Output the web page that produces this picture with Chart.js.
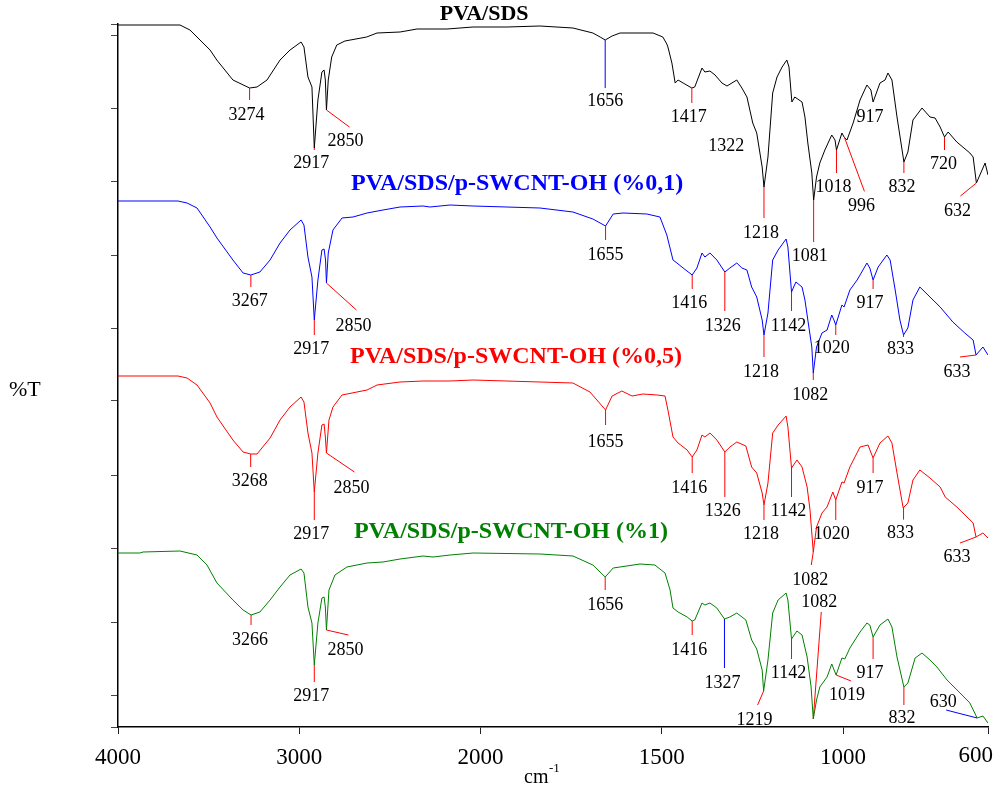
<!DOCTYPE html>
<html lang="en">
  <head>
    <meta charset="UTF-8" />
    <title>FTIR PVA/SDS</title>
    <script src="https://cdn.jsdelivr.net/npm/chart.js"></script>
    <style>
      html, body { margin: 0; padding: 0; background: #fff; }
      #wrap { width: 1001px; height: 798px; }
    </style>
  </head>
  <body>
    <div id="wrap"><canvas id="ftir"></canvas></div>
    <script>
      // wavenumber (cm-1), height of trace above the x axis (stacked, arbitrary %T units)
      const pvaSds = [
        [4000,702],[3658,702],[3603,697],[3492,677],[3455,667],[3366,647],[3274,639],[3233,640],
        [3178,647],[3106,667],[3051,677],[2990,685],[2974,680],[2952,650],[2930,640],[2917,579],
        [2897,627],[2875,655],[2863,657],[2856,647],[2850,617],[2840,647],[2821,670],[2793,682],
        [2748,686],[2628,690],[2571,694],[2444,695],[2350,698],[2185,698],[2041,700],[1927,700],
        [1836,701],[1745,699],[1690,694],[1670,690],[1656,687],[1637,691],[1615,694],[1560,694],
        [1524,694],[1497,690],[1486,683],[1483,680],[1472,664],[1463,644],[1455,647],[1441,644],
        [1417,639],[1409,640],[1389,659],[1381,655],[1367,656],[1353,652],[1334,644],[1320,641],
        [1293,647],[1279,639],[1265,630],[1249,604],[1238,594],[1223,560],[1218,540],[1207,570],
        [1194,634],[1182,650],[1168,660],[1155,667],[1149,660],[1141,625],[1133,630],[1113,625],
        [1105,610],[1097,584],[1086,554],[1081,527],[1073,550],[1064,564],[1050,577],[1031,592],
        [1022,587],[1018,577],[1003,594],[997,590],[989,587],[972,604],[953,627],[934,642],
        [923,637],[917,625],[898,644],[884,647],[876,654],[865,647],[851,610],[837,577],
        [832,565],[821,575],[807,607],[782,619],[760,610],[746,609],[732,600],[720,590],
        [710,595],[686,585],[650,574],[641,570],[632,544],[608,564],[600,552]
      ];
      const pvaSds01 = [
        [4000,526],[3669,526],[3619,524],[3564,519],[3492,500],[3454,489],[3366,467],[3310,454],
        [3267,452],[3217,455],[3161,467],[3106,484],[3051,497],[2990,507],[2974,502],[2952,470],
        [2930,450],[2917,407],[2897,447],[2875,477],[2863,478],[2855,467],[2850,444],[2840,474],
        [2814,497],[2764,509],[2703,510],[2626,514],[2538,517],[2444,520],[2317,521],[2279,520],
        [2168,522],[2041,521],[1836,519],[1745,515],[1690,508],[1655,501],[1634,513],[1607,514],
        [1541,513],[1505,510],[1486,492],[1469,467],[1458,464],[1441,459],[1416,452],[1403,459],
        [1389,474],[1381,470],[1367,474],[1348,467],[1326,455],[1312,459],[1293,464],[1279,459],
        [1265,457],[1252,440],[1238,430],[1223,407],[1218,392],[1207,414],[1194,467],[1179,477],
        [1157,488],[1152,480],[1142,435],[1130,445],[1113,440],[1105,427],[1097,407],[1086,380],
        [1082,354],[1073,380],[1058,394],[1044,397],[1031,412],[1025,407],[1020,402],[1003,422],
        [997,420],[981,437],[961,447],[934,464],[926,459],[917,447],[903,460],[879,472],
        [870,467],[856,437],[843,407],[833,392],[821,399],[807,427],[788,440],[760,430],
        [732,420],[718,414],[697,405],[664,394],[641,387],[633,372],[614,380],[600,372]
      ];
      const pvaSds05 = [
        [4000,351],[3669,351],[3619,349],[3564,342],[3492,324],[3454,310],[3366,287],[3310,275],
        [3268,273],[3233,273],[3161,289],[3106,307],[3051,320],[2990,330],[2974,325],[2952,294],
        [2930,274],[2917,235],[2897,274],[2875,302],[2863,303],[2856,290],[2850,274],[2836,307],
        [2814,320],[2764,332],[2626,337],[2571,342],[2444,345],[2317,346],[2168,346],[2041,347],
        [1836,345],[1745,344],[1698,335],[1655,317],[1637,331],[1610,336],[1582,331],[1552,333],
        [1513,332],[1491,331],[1483,317],[1469,290],[1455,284],[1430,277],[1416,270],[1403,277],
        [1389,292],[1381,290],[1367,294],[1348,287],[1326,275],[1312,280],[1293,285],[1268,281],
        [1252,260],[1238,254],[1223,234],[1218,222],[1207,244],[1194,294],[1179,302],[1157,311],
        [1152,300],[1142,259],[1127,267],[1113,260],[1099,240],[1091,217],[1082,175],[1073,200],
        [1058,214],[1044,220],[1028,235],[1020,227],[1003,245],[997,244],[981,260],[953,280],
        [931,282],[917,269],[898,284],[876,291],[865,284],[851,254],[834,219],[821,224],
        [807,247],[788,257],[760,249],[732,240],[718,230],[686,220],[655,209],[641,204],
        [633,190],[614,194],[600,189]
      ];
      const pvaSds1 = [
        [4000,174],[3879,174],[3862,175],[3658,176],[3564,172],[3509,162],[3454,144],[3366,127],
        [3310,117],[3266,112],[3217,115],[3161,127],[3106,140],[3051,152],[2990,158],[2974,154],
        [2952,120],[2930,104],[2917,62],[2897,104],[2875,129],[2863,130],[2856,120],[2850,97],
        [2836,137],[2803,152],[2737,160],[2626,164],[2538,165],[2444,168],[2317,171],[2262,170],
        [2168,172],[2041,174],[1836,173],[1745,171],[1690,162],[1656,150],[1634,159],[1560,163],
        [1519,162],[1491,154],[1477,137],[1469,119],[1455,115],[1430,110],[1416,106],[1409,107],
        [1389,124],[1381,122],[1367,124],[1348,119],[1327,108],[1312,110],[1293,114],[1268,107],
        [1252,87],[1238,78],[1223,57],[1219,36],[1207,67],[1194,114],[1179,127],[1157,134],
        [1152,127],[1142,88],[1127,96],[1113,92],[1099,70],[1088,40],[1082,8],[1073,27],
        [1064,40],[1044,50],[1031,63],[1019,52],[1003,69],[995,68],[981,79],[953,95],
        [934,104],[926,102],[917,90],[898,102],[876,108],[865,100],[851,70],[832,40],
        [821,44],[801,69],[782,74],[760,67],[741,60],[713,47],[677,34],[650,24],
        [630,9],[614,11],[600,4]
      ];

      const seriesNames = [
        "PVA/SDS",
        "PVA/SDS/p-SWCNT-OH (%0,1)",
        "PVA/SDS/p-SWCNT-OH (%0,5)",
        "PVA/SDS/p-SWCNT-OH (%1)",
      ];
      // where each series name sits: [wavenumber, height]
      const namePositions = [[1990, 713], [1899, 543], [1902, 370], [1916, 195]];

      // peak labels: [wavenumber, text, leader dx, dy, label dx, dy, leader colour]
      const R = "#ff0000", B = "#0000ff";
      const peaksPvaSds = [
        [3274,"3274",0,12,-3,15,R],[2917,"2917",0,2,-3,13,R],[2850,"2850",23,17,-4,14,R],
        [1656,"1656",0,48,0,13,B],[1417,"1417",0,15,-3,14,R],[1322,"1322",0,0,0,61,null],
        [1218,"1218",0,31,-3,15,R],[1081,"1081",0,42,-4,14,R],[1018,"1018",0,23,-3,14,R],
        [996,"996",20,54,-3,15,R],[917,"917",0,0,-3,15,null],[832,"832",0,11,-2,14,R],
        [720,"720",0,13,-1,14,R],[632,"632",-16,13,-3,15,R]
      ];
      const peaksPvaSds01 = [
        [3267,"3267",0,12,-1,14,R],[2917,"2917",0,15,-3,14,R],[2850,"2850",30,27,-3,16,R],
        [1655,"1655",0,14,0,15,R],[1416,"1416",0,14,-3,14,R],[1326,"1326",0,39,-2,15,R],
        [1218,"1218",0,22,-3,15,R],[1142,"1142",0,19,-3,15,R],[1082,"1082",0,7,-3,15,R],
        [1020,"1020",0,10,-4,13,R],[917,"917",0,9,-3,14,R],[833,"833",0,2,-3,12,R],
        [633,"633",-16,2,-3,15,R]
      ];
      const peaksPvaSds05 = [
        [3268,"3268",0,13,-1,14,R],[2917,"2917",0,28,-3,14,R],[2850,"2850",28,19,-3,16,R],
        [1655,"1655",0,15,0,17,R],[1416,"1416",0,16,-3,15,R],[1326,"1326",0,45,-2,14,R],
        [1218,"1218",0,15,-3,14,R],[1142,"1142",0,29,-3,14,R],[1082,"1082",-2,13,-1,15,R],
        [1020,"1020",0,20,-4,14,R],[917,"917",0,15,-3,15,R],[833,"833",0,12,-3,14,R],
        [633,"633",-16,6,-3,14,R]
      ];
      const peaksPvaSds1 = [
        [3266,"3266",0,10,-1,15,R],[2917,"2917",0,17,-3,14,R],[2850,"2850",22,5,-3,15,R],
        [1656,"1656",0,13,0,15,R],[1416,"1416",0,14,-3,15,R],[1327,"1327",0,49,-2,15,B],
        [1219,"1219",-6,14,-3,15,R],[1142,"1142",0,20,-3,14,R],[1082,"1082",8,-107,-2,-10,R],
        [1019,"1019",15,6,-4,14,R],[917,"917",0,22,-3,14,R],[832,"832",0,18,-2,13,R],
        [630,"630",-31,-8,-3,-8,B]
      ];

      const xTicks = [4000, 3000, 2000, 1500, 1000, 600];
      const yTicks = [0, 32, 105, 179, 252, 326, 399, 472, 546, 619, 692, 703];

      const allSeries = [pvaSds, pvaSds01, pvaSds05, pvaSds1];
      const allPeaks = [peaksPvaSds, peaksPvaSds01, peaksPvaSds05, peaksPvaSds1];
      const colors = ["#000000", "#0000ff", "#ff0000", "#008000"];
      const nameSizes = [22, 24, 24, 24];
      const serif = "'Liberation Serif', 'Times New Roman', serif";

      // axis is compressed 2:1 above 2000 cm-1, like the instrument print-out
      const toAxis = (w) => (w >= 2000 ? (4000 - w) / 2 : 1000 + (2000 - w));
      const fromAxis = (u) => (u <= 1000 ? 4000 - 2 * u : 2000 - (u - 1000));
      const lastTick = xTicks[xTicks.length - 1];

      function heightAt(series, w) {
        for (let i = 0; i < series.length - 1; i++) {
          const [w0, h0] = series[i], [w1, h1] = series[i + 1];
          if (w <= w0 && w >= w1) {
            return w0 === w1 ? h0 : h0 + ((w - w0) * (h1 - h0)) / (w1 - w0);
          }
        }
        return series[series.length - 1][1];
      }

      const annotations = {
        id: "annotations",
        afterDatasetsDraw(chart) {
          const { ctx, scales } = chart;
          const xs = scales.x, ys = scales.y;
          ctx.save();
          ctx.lineWidth = 1;
          ctx.textAlign = "center";
          ctx.textBaseline = "middle";
          allSeries.forEach((series, i) => {
            allPeaks[i].forEach(([w, text, dx, dy, lx, ly, col]) => {
              const px = xs.getPixelForValue(toAxis(w));
              const py = ys.getPixelForValue(heightAt(series, w));
              if (col) {
                ctx.strokeStyle = col;
                ctx.beginPath();
                ctx.moveTo(px, py);
                ctx.lineTo(px + dx, py + dy);
                ctx.stroke();
              }
              ctx.fillStyle = "#000";
              ctx.font = "18px " + serif;
              ctx.fillText(text, px + dx + lx, py + dy + ly);
            });
            const [nw, nh] = namePositions[i];
            ctx.fillStyle = colors[i];
            ctx.font = "bold " + nameSizes[i] + "px " + serif;
            ctx.fillText(seriesNames[i], xs.getPixelForValue(toAxis(nw)), ys.getPixelForValue(nh));
          });

          // the last tick label sits pulled in from the right edge
          ctx.fillStyle = "#000";
          ctx.font = "23px " + serif;
          ctx.textAlign = "right";
          ctx.textBaseline = "top";
          ctx.fillText(String(lastTick), xs.getPixelForValue(toAxis(lastTick)) + 5, chart.chartArea.bottom + 17);

          // axis titles
          ctx.textAlign = "left";
          ctx.textBaseline = "alphabetic";
          ctx.font = "22px " + serif;
          ctx.fillText("%T", 9, 396);
          const cx = (chart.chartArea.left + chart.chartArea.right) / 2;
          ctx.font = "20px " + serif;
          ctx.fillText("cm", cx - 29, 783);
          ctx.font = "13px " + serif;
          ctx.fillText("-1", cx - 4, 772);
          ctx.restore();
        },
      };

      const config = {
        type: "line",
        data: {
          datasets: allSeries.map((s, i) => ({
            label: seriesNames[i],
            data: s.map(([w, h]) => ({ x: toAxis(w), y: h })),
            borderColor: colors[i],
            borderWidth: 1,
            pointRadius: 0,
            tension: 0,
            fill: false,
          })),
        },
        options: {
          responsive: false,
          animation: false,
          layout: { padding: { top: 24, right: 13, left: 0, bottom: 0 } },
          plugins: { legend: { display: false }, tooltip: { enabled: false } },
          scales: {
            x: {
              type: "linear",
              min: 0,
              max: toAxis(600),
              afterBuildTicks: (scale) => {
                scale.ticks = xTicks.map((w) => ({ value: toAxis(w) }));
              },
              afterFit: (scale) => {
                scale.height = 71;
                scale.paddingLeft = 0;
                scale.paddingRight = 0;
              },
              ticks: {
                callback: (v) => {
                  const w = Math.round(fromAxis(v));
                  return w === lastTick ? "" : String(w);
                },
                color: "#000",
                font: { family: serif, size: 23 },
                padding: 10,
                maxRotation: 0,
              },
              grid: { drawOnChartArea: false, drawTicks: true, tickLength: 7, color: "#222" },
              border: { color: "#000", width: 1.5 },
            },
            y: {
              min: 0,
              max: 703,
              afterBuildTicks: (scale) => {
                scale.ticks = yTicks.map((v) => ({ value: v }));
              },
              afterFit: (scale) => {
                scale.width = 118;
                scale.paddingTop = 0;
                scale.paddingBottom = 0;
              },
              ticks: { display: false },
              grid: { drawOnChartArea: false, drawTicks: true, tickLength: 7, color: "#444" },
              border: { color: "#000", width: 1.5 },
            },
          },
        },
        plugins: [annotations],
      };

      const canvas = document.getElementById("ftir");
      canvas.width = 1001;
      canvas.height = 798;
      new Chart(canvas, config);
    </script>
  </body>
</html>
